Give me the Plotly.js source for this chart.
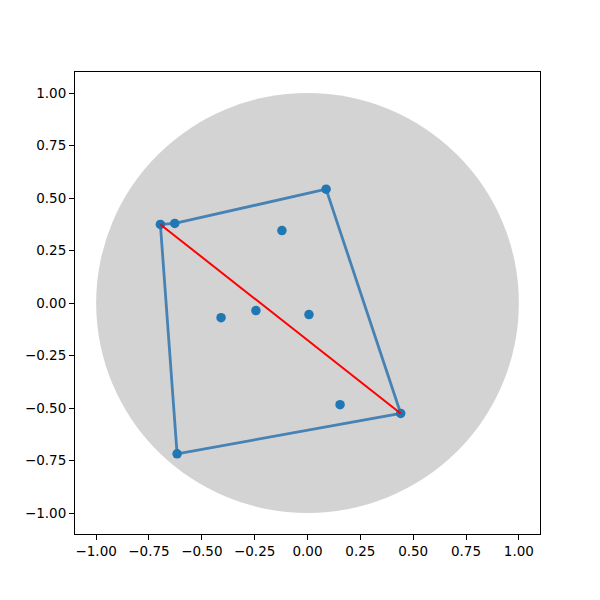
<!DOCTYPE html>
<html>
<head>
<meta charset="utf-8">
<script src="https://cdn.plot.ly/plotly-3.0.1.min.js"></script>
<style>html,body{margin:0;padding:0;background:#fff;}</style>
</head>
<body>
<div id="chart" style="width:600px;height:600px;"></div>
<script>
// Points
const pointsX = [-0.696, -0.628, 0.088, -0.121, -0.409, -0.244, 0.007, 0.154, 0.441, -0.617];
const pointsY = [0.374, 0.379, 0.542, 0.345, -0.070, -0.036, -0.055, -0.484, -0.526, -0.718];
// Convex hull (closed)
const hullX = [-0.696, -0.628, 0.088, 0.441, -0.617, -0.696];
const hullY = [0.374, 0.379, 0.542, -0.526, -0.718, 0.374];
// Diameter segment
const diamX = [-0.696, 0.441];
const diamY = [0.374, -0.526];
// Circle
const circleR = 1.0;
const tickVals = [-1, -0.75, -0.5, -0.25, 0, 0.25, 0.5, 0.75, 1];

const traces = [
  {x: hullX, y: hullY, mode: 'lines', type: 'scatter', line: {color: '#4682b4', width: 2.8}, hoverinfo: 'skip'},
  {x: pointsX, y: pointsY, mode: 'markers', type: 'scatter', marker: {color: '#1f77b4', size: 9.5}},
  {x: diamX, y: diamY, mode: 'lines', type: 'scatter', line: {color: '#ff0000', width: 2}}
];

const axisCommon = {
  range: [-1.1, 1.1],
  tickvals: tickVals,
  tickformat: '.2f',
  ticks: 'outside',
  ticklen: 5,
  tickwidth: 1,
  tickcolor: '#000',
  showgrid: false,
  zeroline: false,
  showline: true,
  mirror: true,
  linecolor: '#000',
  linewidth: 1,
  tickfont: {family: 'DejaVu Sans', size: 13.5, color: '#000'}
};

const layout = {
  width: 600, height: 600,
  margin: {l: 75, r: 60, t: 72, b: 66},
  showlegend: false,
  paper_bgcolor: '#fff',
  plot_bgcolor: '#fff',
  xaxis: Object.assign({}, axisCommon),
  yaxis: Object.assign({}, axisCommon),
  shapes: [{
    type: 'circle', xref: 'x', yref: 'y', layer: 'below',
    x0: -circleR, x1: circleR, y0: -circleR, y1: circleR,
    fillcolor: '#d3d3d3', line: {width: 0}
  }]
};

Plotly.newPlot('chart', traces, layout, {displayModeBar: false, staticPlot: true});
</script>
</body>
</html>
